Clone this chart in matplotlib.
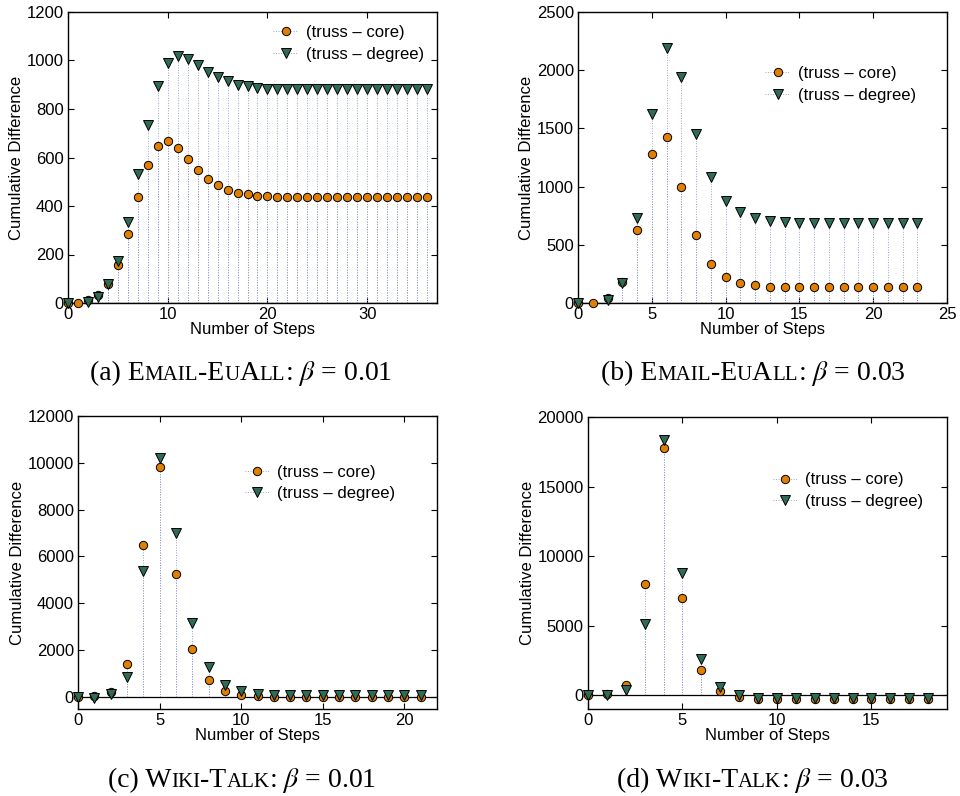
import matplotlib
matplotlib.use("Agg")
import matplotlib.pyplot as plt
from matplotlib.lines import Line2D
from matplotlib.legend_handler import HandlerLine2D

plt.rcParams["font.family"] = ["Liberation Sans", "DejaVu Sans"]
plt.rcParams["mathtext.fontset"] = "stix"

# ---- data ----
steps_a = list(range(37))
core_a = [0, 2, 12, 34, 78, 158, 285, 436, 568, 649, 666, 640, 594, 549, 511,
          485, 466, 454, 448, 443, 440, 439, 439, 439, 439, 439, 439, 439, 439,
          439, 439, 439, 439, 439, 439, 439, 439]
degree_a = [0, -20, 5, 23, 78, 175, 332, 532, 735, 895, 989, 1017, 1007, 980,
            954, 930, 915, 901, 893, 887, 884, 882, 882, 882, 882, 882, 882,
            882, 882, 882, 882, 882, 882, 882, 882, 882, 882]

steps_b = list(range(24))
core_b = [0, 3, 43, 180, 626, 1280, 1426, 1000, 580, 334, 223, 171, 151, 140,
          137, 134, 134, 134, 134, 134, 134, 134, 134, 134]
degree_b = [0, -40, 29, 171, 729, 1620, 2191, 1943, 1454, 1086, 880, 780, 729,
            706, 697, 691, 691, 691, 691, 691, 691, 691, 691, 691]

steps_c = list(range(22))
core_c = [0, 43, 186, 1414, 6486, 9814, 5243, 2043, 714, 229, 71, 29, 14, 0,
          -14, -14, -14, -14, -14, -14, -14, -14]
degree_c = [-14, -57, 100, 857, 5371, 10214, 7014, 3143, 1257, 486, 229, 129,
            86, 71, 57, 57, 57, 57, 57, 57, 57, 57]

steps_d = list(range(19))
core_d = [0, 72, 695, 7986, 17770, 6954, 1823, 288, -120, -264, -264, -264,
          -264, -264, -264, -264, -264, -264, -264]
degree_d = [0, -24, 384, 5132, 18322, 8777, 2614, 576, 24, -240, -240, -240,
            -240, -240, -240, -240, -240, -240, -240]

series_labels = ["(truss \u2013 core)", "(truss \u2013 degree)"]

ORANGE = "#e07f00"
GREEN = "#2f6b55"
STEM = "#8c96d0"

W, H = 960, 796


class StemHandler(HandlerLine2D):
    # marker at the right end of the dotted stub, like a matlab stem legend
    def get_xdata(self, legend, xdescent, ydescent, width, height, fontsize):
        return [-xdescent, -xdescent + width], [-xdescent + width]


def draw_panel(ax, x, core, degree, xlim, ylim, xticks, yticks, leg_pos):
    for vals, mk, col, ms, z in [(core, "o", ORANGE, 6, 3), (degree, "v", GREEN, 7, 4)]:
        ax.vlines(x, 0, vals, colors=STEM, linestyles=(0, (1, 1.8)), lw=0.65, zorder=2)
        # matlab leaves out markers that fall below the axis
        xs = [xi for xi, v in zip(x, vals) if v >= ylim[0]]
        ys = [v for v in vals if v >= ylim[0]]
        ax.plot(xs, ys, ls="none", marker=mk, ms=ms, mfc=col, mec="black",
                mew=0.7, clip_on=False, zorder=z)
    ax.axhline(0, color="black", lw=0.9, zorder=2)
    ax.set_xlim(*xlim)
    ax.set_ylim(*ylim)
    ax.set_xticks(xticks)
    ax.set_yticks(yticks)
    ax.tick_params(direction="in", top=True, right=True, length=4, width=0.8,
                   labelsize=12, pad=3)
    for sp in ax.spines.values():
        sp.set_linewidth(1.0)
    ax.set_xlabel("Number of Steps", fontsize=12, labelpad=0)
    ax.set_ylabel("Cumulative Difference", fontsize=12, labelpad=2)

    handles = [
        Line2D([], [], color=STEM, ls=(0, (1, 1.8)), lw=0.65, marker="o", ms=6,
               mfc=ORANGE, mec="black", mew=0.7),
        Line2D([], [], color=STEM, ls=(0, (1, 1.8)), lw=0.65, marker="v", ms=7,
               mfc=GREEN, mec="black", mew=0.7),
    ]
    ax.legend(handles, series_labels, loc="upper left", bbox_to_anchor=leg_pos,
              frameon=False, fontsize=12, handlelength=1.5, handletextpad=0.45,
              borderpad=0, borderaxespad=0, labelspacing=0.4,
              handler_map={Line2D: StemHandler()})


def caption(fig, xc, ybase, parts):
    renderer = fig.canvas.get_renderer()
    texts = []
    total = 0
    for s, size in parts:
        t = fig.text(0, ybase, s, fontsize=size, family="Liberation Serif",
                     va="baseline", ha="left", transform=None)
        w = t.get_window_extent(renderer).width
        texts.append((t, w))
        total += w
    x0 = xc - total / 2
    for t, w in texts:
        t.set_x(x0)
        x0 += w


fig = plt.figure(figsize=(W / 100, H / 100), dpi=100)

def add_axes(left, top, right, bottom):
    return fig.add_axes([left / W, 1 - bottom / H, (right - left) / W, (bottom - top) / H])

ax_a = add_axes(68, 12, 437, 303)
ax_b = add_axes(578, 12, 947, 303)
ax_c = add_axes(78, 416, 437, 709)
ax_d = add_axes(588, 417, 947, 709)

draw_panel(ax_a, steps_a, core_a, degree_a, (0, 37), (0, 1200),
           [0, 10, 20, 30], range(0, 1201, 200), (0.556, 0.955))
draw_panel(ax_b, steps_b, core_b, degree_b, (0, 25), (0, 2500),
           range(0, 26, 5), range(0, 2501, 500), (0.507, 0.814))
draw_panel(ax_c, steps_c, core_c, degree_c, (0, 22), (-520, 12000),
           range(0, 21, 5), range(0, 12001, 2000), (0.465, 0.834))
draw_panel(ax_d, steps_d, core_d, degree_d, (0, 19), (-1000, 20000),
           range(0, 16, 5), range(0, 20001, 5000), (0.515, 0.81))

L, S = 20, 15
caption(fig, 241, H - 380, [("(a) E", L), ("MAIL", S), ("-E", L), ("U", S),
                            ("A", L), ("LL", S), (r": $\beta$ = 0.01", L)])
caption(fig, 753, H - 380, [("(b) E", L), ("MAIL", S), ("-E", L), ("U", S),
                            ("A", L), ("LL", S), (r": $\beta$ = 0.03", L)])
caption(fig, 242, H - 787, [("(c) W", L), ("IKI", S), ("-T", L), ("ALK", S),
                            (r": $\beta$ = 0.01", L)])
caption(fig, 753, H - 787, [("(d) W", L), ("IKI", S), ("-T", L), ("ALK", S),
                            (r": $\beta$ = 0.03", L)])

fig.savefig("out.png", dpi=100)
